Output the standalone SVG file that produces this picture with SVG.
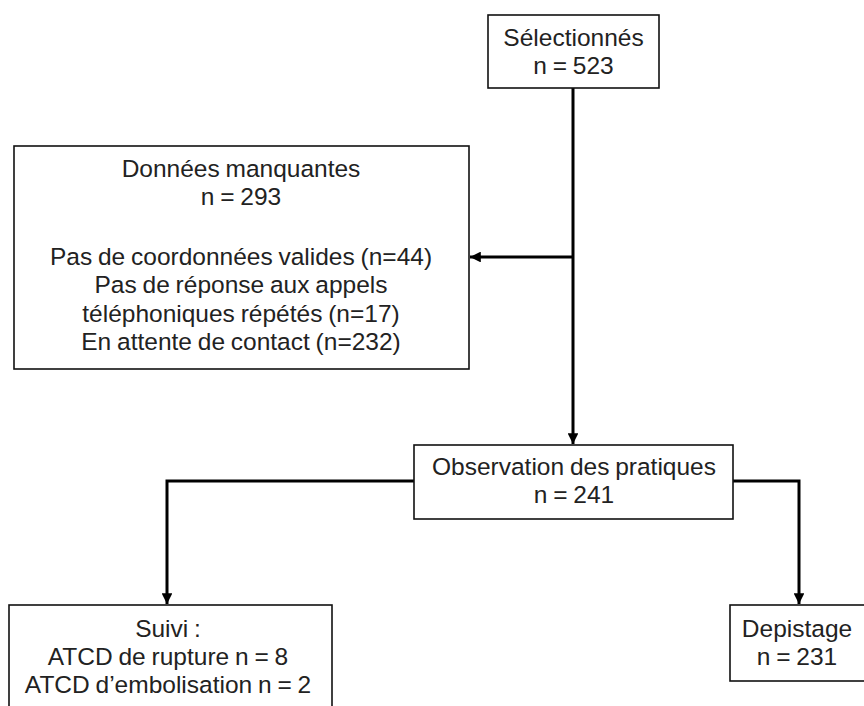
<svg xmlns="http://www.w3.org/2000/svg" width="864" height="706" viewBox="0 0 864 706">
<style>
.box{fill:#fff;stroke:#111;stroke-width:1.6}
.t{font-family:"Liberation Sans",Arial,sans-serif;font-size:24.5px;fill:#222;text-anchor:middle;word-spacing:-1px}
.c{fill:none;stroke:#000;stroke-width:3;stroke-linejoin:miter}
</style>
<defs>
<marker id="ah" viewBox="0 0 10 10" refX="10" refY="5" markerWidth="3.6" markerHeight="3.6" orient="auto" markerUnits="strokeWidth">
<path d="M0,0 L10,5 L0,10 z" fill="#000"/>
</marker>
</defs>
<rect width="864" height="706" fill="#fff"/>
<g id="connectors">
<path class="c" d="M573,88 V444" marker-end="url(#ah)"/>
<path class="c" d="M573,257 H470" marker-end="url(#ah)"/>
<path class="c" d="M414,481 H167 V604" marker-end="url(#ah)"/>
<path class="c" d="M733,481 H799 V604" marker-end="url(#ah)"/>
</g>
<g id="selectionnes">
<rect class="box" x="488" y="15" width="171" height="73"/>
<text class="t" x="573.5" y="46">Sélectionnés</text>
<text class="t" x="573.5" y="74">n = 523</text>
</g>
<g id="manquantes">
<rect class="box" x="14" y="146" width="455" height="223"/>
<text class="t" x="241" y="177">Données manquantes</text>
<text class="t" x="241" y="205">n = 293</text>
<text class="t" x="241" y="265">Pas de coordonnées valides (n=44)</text>
<text class="t" x="241" y="293">Pas de réponse aux appels</text>
<text class="t" x="241" y="322">téléphoniques répétés (n=17)</text>
<text class="t" x="241" y="350">En attente de contact (n=232)</text>
</g>
<g id="observation">
<rect class="box" x="414" y="445" width="319" height="74"/>
<text class="t" x="574" y="475">Observation des pratiques</text>
<text class="t" x="574" y="503">n = 241</text>
</g>
<g id="suivi">
<rect class="box" x="9" y="605" width="323" height="110"/>
<text class="t" x="168" y="637">Suivi :</text>
<text class="t" x="168" y="665">ATCD de rupture n = 8</text>
<text class="t" x="168" y="693">ATCD d’embolisation n = 2</text>
</g>
<g id="depistage">
<rect class="box" x="730" y="605" width="150" height="76"/>
<text class="t" x="797" y="637">Depistage</text>
<text class="t" x="797" y="665">n = 231</text>
</g>
</svg>
